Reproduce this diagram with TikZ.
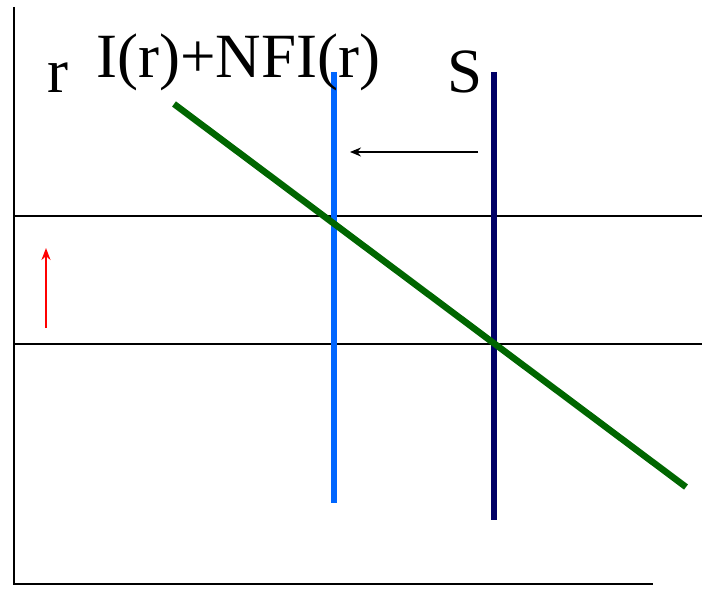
\documentclass[tikz,border=0pt]{standalone}
\usepackage{fontspec}
\setmainfont{Liberation Serif}
\usetikzlibrary{arrows.meta}
\definecolor{ilblue}{HTML}{0066FF}
\definecolor{snavy}{HTML}{000066}
\definecolor{curvegreen}{HTML}{006600}
\tikzset{
  axisline/.style={line width=2.4pt, black},
  level/.style={line width=2pt, black},
  bigtext/.style={inner sep=0pt, anchor=base west, font=\fontsize{63}{63}\selectfont},
  vline/.style={line width=6pt},
}
\begin{document}
\begin{tikzpicture}[x=1pt,y=-1pt]
\useasboundingbox (0,0) rectangle (702,591);
% axes
\coordinate (ytop) at (14,7);
\coordinate (origin) at (14,584);
\coordinate (xend) at (653,584);
\draw[axisline] (ytop) -- (origin) -- (xend);
% horizontal levels
\coordinate (h1a) at (14,215.7);
\coordinate (h1b) at (702,215.7);
\coordinate (h2a) at (14,344.3);
\coordinate (h2b) at (702,344.3);
\draw[level] (h1a) -- (h1b);
\draw[level] (h2a) -- (h2b);
% vertical lines
\coordinate (btop) at (334,72);
\coordinate (bbot) at (334,503);
\draw[vline, ilblue] (btop) -- (bbot);
\coordinate (stop) at (494,72);
\coordinate (sbot) at (494,520);
\draw[vline, snavy] (stop) -- (sbot);
% green curve
\coordinate (g1) at (174,104);
\coordinate (g2) at (686,487);
\draw[line width=6.5pt, curvegreen] (g1) -- (g2);
% arrows
\coordinate (a1) at (478,152);
\coordinate (a2) at (350,152);
\draw[line width=2pt, -{Stealth[length=11pt,width=9pt]}] (a1) -- (a2);
\coordinate (r1) at (46,328);
\coordinate (r2) at (46,248);
\draw[line width=2.2pt, red, -{Stealth[length=12pt,width=9pt]}] (r1) -- (r2);
% labels
\node[bigtext] (rlab) at (47,93) {r};
\node[bigtext] (ilab) at (96,78) {I(r)+NFI(r)};
\node[bigtext] (slab) at (447,93) {S};
\end{tikzpicture}
\end{document}
